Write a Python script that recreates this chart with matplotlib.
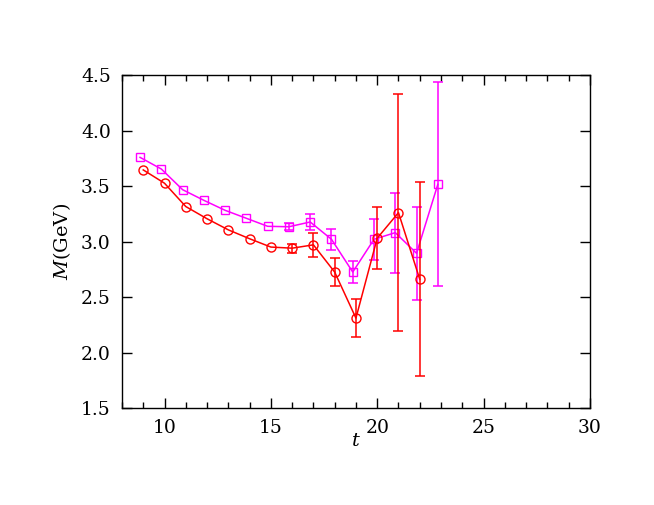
import numpy as np
import matplotlib
matplotlib.use("Agg")
import matplotlib.pyplot as plt
from matplotlib.ticker import MultipleLocator

# red circles
t_red = [9, 10, 11, 12, 13, 14, 15, 16, 17, 18, 19, 20, 21, 22]
m_red = [3.645, 3.525, 3.315, 3.205, 3.105, 3.025, 2.95, 2.94, 2.97, 2.725,
         2.31, 3.03, 3.26, 2.66]
e_red = [0.0, 0.0, 0.0, 0.0, 0.0, 0.0, 0.0, 0.04, 0.105, 0.125,
         0.168, 0.28, 1.07, 0.875]

# magenta squares (plotted slightly left of t)
t_mag = [9, 10, 11, 12, 13, 14, 15, 16, 17, 18, 19, 20, 21, 22, 23]
m_mag = [3.758, 3.653, 3.467, 3.371, 3.281, 3.209, 3.137, 3.133, 3.176, 3.02,
         2.725, 3.02, 3.08, 2.894, 3.515]
e_mag = [0.0, 0.0, 0.0, 0.0, 0.0, 0.0, 0.0, 0.03, 0.072, 0.095,
         0.1, 0.186, 0.36, 0.42, 0.92]

plt.rcParams['font.family'] = 'DejaVu Serif'
plt.rcParams['mathtext.fontset'] = 'dejavuserif'

fig = plt.figure(figsize=(6.54, 5.05), dpi=100)
ax = fig.add_axes([0.1865, 0.192, 0.7155, 0.6595])


def draw(t, m, e, color, marker, ms):
    t = np.array(t, dtype=float)
    m = np.array(m)
    e = np.array(e)
    ax.plot(t, m, color=color, marker=marker, mfc='none', mec=color,
            ms=ms, mew=1.0, lw=1.1)
    keep = e > 0
    ax.errorbar(t[keep], m[keep], yerr=e[keep], fmt='none', ecolor=color,
                capsize=3.5, elinewidth=1.1, capthick=1.1)


draw(np.array(t_mag) - 0.15, m_mag, e_mag, '#ff00ff', 's', 6)
draw(t_red, m_red, e_red, '#ff0000', 'o', 6.5)

ax.set_xlim(8, 30)
ax.set_ylim(1.5, 4.5)
ax.xaxis.set_major_locator(MultipleLocator(5))
ax.xaxis.set_minor_locator(MultipleLocator(1))
ax.yaxis.set_major_locator(MultipleLocator(0.5))
ax.yaxis.set_major_formatter(plt.FormatStrFormatter('%.1f'))
ax.tick_params(which='both', direction='in', top=True, right=True,
               labelsize=13.5, width=1.0)
ax.tick_params(which='major', length=7, pad=8)
ax.tick_params(which='minor', length=4)
for s in ax.spines.values():
    s.set_linewidth(1.0)

ax.set_xlabel(r'$t$', fontsize=14, labelpad=-4)
ax.set_ylabel(r'$M$(GeV)', fontsize=14, labelpad=6)

fig.savefig('out.png', dpi=100)
